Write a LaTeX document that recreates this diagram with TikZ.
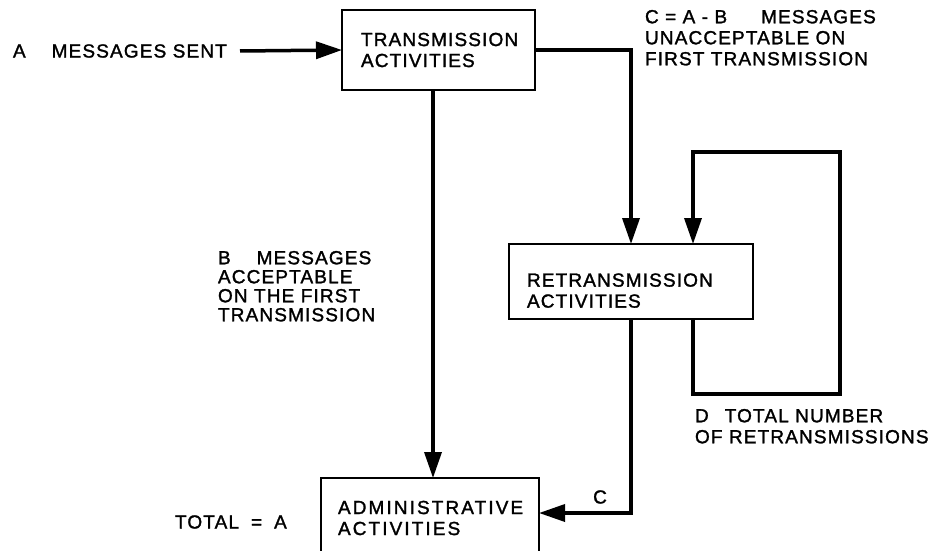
\documentclass[tikz,border=0pt]{standalone}
\usepackage{fontspec}
\setmainfont{Liberation Sans}[LetterSpace=6,FakeBold=1.5]
\usetikzlibrary{arrows.meta}
\uchyph=0
\begin{document}
\begin{tikzpicture}[x=1pt,y=-1pt,
  every node/.style={inner sep=0pt,outer sep=0pt},
  box/.style={draw,line width=1.8pt,rectangle,anchor=north west,align=left,
    font=\fontsize{19}{21}\selectfont},
  lbl/.style={align=left,font=\fontsize{19}{21}\selectfont},
  conn/.style={line width=3.5pt},
  tip/.style={-{Triangle[length=26pt,width=17pt]}}]
\clip (0,0) rectangle (940,551);

% activity boxes
\node[box,minimum width=193pt,minimum height=80pt,inner xsep=19pt,text width=155pt]
  (tbox) at (342,10) {TRANSMISSION\\ACTIVITIES};
\node[box,minimum width=244pt,minimum height=75pt,inner xsep=18pt,text width=208pt,
  text depth=3pt]
  (rbox) at (509,244) {RETRANSMISSION\\ACTIVITIES};
\node[box,minimum width=218pt,minimum height=80pt,inner xsep=17pt,text width=184pt,
  font=\fontsize{19}{21}\selectfont\addfontfeature{LetterSpace=11}]
  (abox) at (321,478) {ADMINISTRATIVE\\ACTIVITIES};

% labels
\node[lbl,anchor=west] (lblA) at (13,51) {A\hspace{26pt}MESSAGES SENT};
\node[lbl,anchor=north west] (lblC) at (645,10)
  {C = A - B\hspace{34pt}MESSAGES\\UNACCEPTABLE ON\\FIRST TRANSMISSION};
\node[lbl,anchor=north west,font=\fontsize{19}{19}\selectfont] (lblB) at (218,251)
  {B\hspace{26pt}MESSAGES\\ACCEPTABLE\\ON THE FIRST\\TRANSMISSION};
\node[lbl,anchor=north west] (lblD) at (695,409)
  {D\hspace{16pt}TOTAL NUMBER\\OF RETRANSMISSIONS};
\node[lbl,anchor=west] (lblT) at (175,522) {TOTAL\hspace{12pt}=\hspace{12pt}A};
\node[lbl] (lblCc) at (600,497) {C};

% helper points
\coordinate (ain) at (240,51);
\coordinate (bx) at (433,0);
\coordinate (lx) at (693,0);
\coordinate (lbr) at (840,394);
\coordinate (ltr) at (840,152);

% connectors
\draw[conn,tip] (ain) -- (tbox.west);
\draw[conn,tip] (tbox.south -| bx) -- (abox.north -| bx);
\draw[conn,tip] (tbox.east) -| (rbox.north);
\draw[conn,tip] (rbox.south -| lx) |- (lbr) -- (ltr) -| (rbox.north -| lx);
\draw[conn,tip] (rbox.south) |- ([yshift=5pt]abox.east);
\end{tikzpicture}
\end{document}
